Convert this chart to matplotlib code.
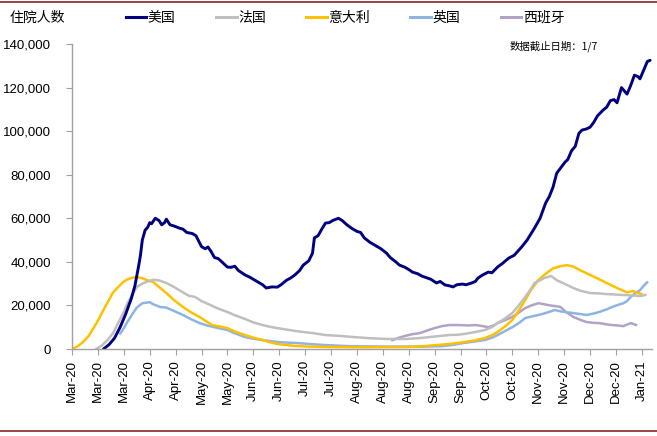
#!/usr/bin/env python3
"""Hospitalised COVID-19 patients: US / France / Italy / UK / Spain, Mar-2020 to 7 Jan 2021."""
import matplotlib
matplotlib.use("Agg")
import matplotlib.pyplot as plt
import matplotlib.dates as mdates
from matplotlib.lines import Line2D
import numpy as np
import pandas as pd

plt.rcParams["font.family"] = ["Liberation Sans", "Noto Sans CJK SC", "DejaVu Sans"]
CJK = ["Noto Sans CJK SC", "DejaVu Sans"]

START = pd.Timestamp("2020-03-01")

# day offset from 1 Mar 2020, value in thousands
US_DAY = [17, 20, 23, 26, 29, 32, 34, 36, 37, 38, 39.5, 41, 42, 43, 45, 47, 48.5, 50, 51, 53,
          55, 58, 60, 62, 65, 67, 69, 70, 72, 73.5, 75, 77, 79, 81, 84, 86, 88, 90, 93.5, 96,
          98, 100.5, 103, 105, 108, 111, 113, 116, 118, 120.5, 123, 125, 128, 130, 131, 133,
          135, 137, 139, 141, 144, 146, 148.6, 151, 154, 156, 158, 161, 164, 167, 170, 172,
          175, 177, 180, 182, 184, 187, 189, 192, 194, 197, 199, 201.6, 204, 206, 208, 211,
          213, 216, 218, 219.5, 222, 225, 227, 230, 233, 236, 239, 243, 246, 250, 253, 256,
          258, 260, 262, 264, 266.5, 268, 270, 272, 274, 275.7, 278, 280, 282, 284, 287, 289,
          291, 293, 294.6, 297, 299, 300, 302, 304, 306, 307, 309, 311, 312.5]
US_VAL = [0, 2, 5, 10, 16, 23, 29, 38, 43, 50, 54.5, 56, 58, 57.5, 60, 59, 57, 58, 59.6, 57,
          56.5, 55.5, 55, 53.5, 53, 52, 48.6, 47, 46, 46.8, 45, 42, 41.5, 40, 37.6, 37.5, 38,
          36, 34, 33, 32, 30.7, 29.5, 28, 28.5, 28.4, 29.5, 31.6, 32.5, 34, 36, 38.5, 40.5, 44,
          51, 52, 55, 57.8, 58, 59, 60, 59, 57, 55.5, 54, 53.5, 51, 49, 47.5, 46, 44, 42, 40,
          38.5, 37.5, 36.5, 35.3, 34.5, 33.5, 32.6, 32, 30.3, 31, 29.4, 29, 28.5, 29.5, 29.8,
          29.5, 30.3, 31, 32.6, 34, 35.3, 35, 37.6, 39.5, 41.7, 43, 46.8, 50, 55.5, 60, 67, 70,
          74.3, 80.7, 83, 85.8, 87, 91, 93, 99, 100.5, 101, 101.8, 104, 107, 109.6, 111, 114,
          114.5, 113, 120, 118, 117, 121, 125.7, 125, 124, 128, 132, 132.5]

FR_DAY = [13, 16, 19, 22, 25, 28, 30, 33, 35, 38, 41, 44, 47, 51, 54, 57, 60, 63, 66.5, 70, 74,
          77, 80, 84, 88, 93.5, 98, 103, 107, 111, 116, 120.5, 125, 130, 137, 145, 152, 160,
          170, 181, 188, 193.5, 199, 204, 208, 212, 218, 223, 227, 230, 234, 238, 241, 245,
          248, 250, 253, 255, 257, 259, 262, 266, 271, 275, 280, 285, 289, 294, 298, 303, 307,
          310]
FR_VAL = [0, 1.5, 4, 7, 12, 17, 21, 25.5, 28.4, 30, 31, 31.8, 31.5, 30.3, 29, 27.5, 26, 24.5,
          23.9, 22, 20.5, 19.3, 18.2, 17, 15.5, 13.8, 12.2, 11, 10.2, 9.6, 8.9, 8.3, 7.8, 7.3,
          6.4, 6, 5.5, 5, 4.6, 4.6, 5, 5.5, 6, 6.4, 6.5, 6.9, 7.8, 8.7, 10, 11.9, 14, 16.5,
          19.5, 23.9, 27.5, 30.3, 31.5, 32.5, 33, 33.5, 31.6, 30, 28, 26.7, 25.7, 25.5, 25.2,
          25, 24.8, 24.6, 24.3, 24.8]

IT_DAY = [0, 3, 6, 9, 11, 14, 17, 20, 22, 25, 27.6, 30, 33, 35, 38, 40.5, 44, 47, 51, 55, 60,
          64, 69, 72, 75.7, 80, 84, 88, 93.5, 98, 103, 107, 111, 116, 120.5, 128, 140, 160, 180,
          190, 197, 204, 212, 218, 223, 227, 230, 234, 238, 241, 245, 248, 252, 256, 260, 264,
          267.5, 271, 274.6, 280, 285, 289, 294.6, 300, 303, 305, 308]
IT_VAL = [0, 1.2, 3.2, 6, 8.7, 13, 17.9, 22.5, 25.7, 28.5, 30.7, 32, 32.8, 33, 32.5, 31.6,
          30.7, 28.5, 25.7, 22.5, 19.3, 17, 14.7, 13, 11, 10.3, 9.6, 8, 6.4, 5.2, 4.1, 3.1, 2.3,
          1.8, 1.4, 1.1, 0.9, 0.8, 0.9, 1.3, 1.8, 2.3, 3.2, 4, 5, 6.3, 7.8, 10.3, 13.3, 17,
          22.5, 27, 31.6, 34.5, 37, 38, 38.5, 37.8, 36.2, 34, 32, 30.3, 28, 26, 26.6, 26, 25.2]

UK_DAY = [26, 28, 30, 33, 35, 38, 42, 44, 47.6, 51, 55, 60, 64, 69, 73, 78, 84, 88, 93.5, 98,
          103, 108, 114, 120.5, 130, 137, 150, 170, 190, 200, 206, 212, 218, 223, 227, 230,
          234, 238, 242, 245, 249, 252, 256, 261, 264, 268, 271, 275, 278, 282, 285, 289, 292,
          296, 298, 300, 302, 305, 307, 309, 311]
UK_VAL = [7, 9.5, 12.5, 16.5, 19, 21, 21.5, 20.5, 19.3, 19, 17.5, 15.6, 13.8, 11.9, 10.8, 9.8,
          8.7, 7.2, 5.5, 4.7, 4.1, 3.5, 3, 2.8, 2.2, 1.8, 1.3, 1.1, 1.1, 1.3, 1.9, 2.8, 3.5,
          4.1, 5.2, 6.4, 8.2, 10, 12.2, 14.2, 15, 15.6, 16.5, 17.9, 17.3, 16.8, 16.5, 16, 15.6,
          16.3, 17, 18.2, 19.3, 20.5, 21, 22, 23.9, 26, 27, 29, 30.7]

ES_DAY = [173, 176, 180, 184, 188, 192, 196, 200, 204, 209, 214, 218, 222, 225, 228, 230, 234,
          238, 242, 245, 249, 252, 255, 257, 261, 264, 267, 271, 275, 278, 282, 285, 289, 292,
          295, 298, 300, 302, 305]
ES_VAL = [4, 5, 6, 6.8, 7.3, 8.5, 9.6, 10.5, 11, 11, 10.8, 11, 10.5, 10, 10.8, 11.9, 13.2, 14.7,
          17, 18.8, 20.2, 21, 20.6, 20.2, 19.7, 19.3, 17, 14.7, 13.3, 12.4, 12, 11.9, 11.3, 11,
          10.8, 10.5, 11.2, 11.9, 11]

SERIES = [
    ("美国", US_DAY, US_VAL, "#000080", 2.1),
    ("法国", FR_DAY, FR_VAL, "#BFBFBF", 1.8),
    ("意大利", IT_DAY, IT_VAL, "#FFC000", 1.8),
    ("英国", UK_DAY, UK_VAL, "#8DB4E2", 1.8),
    ("西班牙", ES_DAY, ES_VAL, "#B3A2C7", 1.8),
]

fig = plt.figure(figsize=(6.57, 4.36), dpi=100)
ax = fig.add_axes([72 / 657, 1 - 349 / 436, 580 / 657, 305 / 436])


def to_dates(days):
    return START + pd.to_timedelta(np.array(days, dtype=float), unit="D")


# draw back-to-front so the US line sits on top
for name, d, v, c, lw in SERIES[::-1]:
    ax.plot(to_dates(d), np.array(v) * 1000, color=c, lw=lw, solid_capstyle="round")

ax.set_ylim(0, 140000)
ax.set_yticks(np.arange(0, 140001, 20000))
ax.yaxis.set_major_formatter(matplotlib.ticker.FuncFormatter(lambda v, p: f"{int(v):,}"))
ax.set_xlim(START, START + pd.Timedelta(days=313.5))
ticks = [START + pd.Timedelta(days=14 * i) for i in range(23)]
ax.set_xticks(ticks)
ax.xaxis.set_major_formatter(mdates.DateFormatter("%b-%y"))
plt.setp(ax.get_xticklabels(), rotation=90)
ax.tick_params(axis="both", labelsize=9.5, color="#A0A0A0", length=4, width=0.8)
ax.tick_params(axis="y", pad=11)
ax.tick_params(axis="x", pad=4)

for s in ["top", "right"]:
    ax.spines[s].set_visible(False)
for s in ["left", "bottom"]:
    ax.spines[s].set_color("#A0A0A0")
    ax.spines[s].set_linewidth(1.0)

fig.text(10 / 657, 1 - 18 / 436, "住院人数", family=CJK, fontsize=10, va="center", ha="left")
fig.text(510 / 657, 1 - 46 / 436, "数据截止日期：1/7", family=CJK, fontsize=7.5,
         ha="left", va="center")

handles = [Line2D([], [], color=c, lw=2.2) for _, _, _, c, _ in SERIES]
leg = fig.legend(handles, [n for n, *_ in SERIES], loc="center", ncol=5,
                 bbox_to_anchor=(345 / 657, 1 - 18 / 436), frameon=False,
                 handlelength=1.5, handletextpad=0.1, columnspacing=2.9,
                 prop={"family": CJK, "size": 10})

# dark red rules at top and bottom of the frame
fig.add_artist(Line2D([0, 1], [1 - 2 / 436] * 2, color="#8B2323", lw=1.2,
                      transform=fig.transFigure))
fig.add_artist(Line2D([0, 1], [1 - 431 / 436] * 2, color="#8B2323", lw=1.2,
                      transform=fig.transFigure))

fig.savefig("out.png", dpi=100)
